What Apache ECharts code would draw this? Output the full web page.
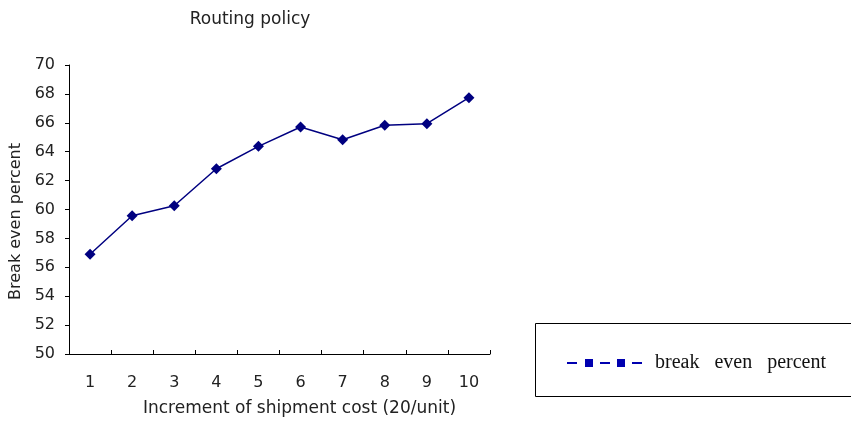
<!DOCTYPE html>
<html>
<head>
<meta charset="utf-8">
<script src="https://cdn.jsdelivr.net/npm/echarts@6/dist/echarts.min.js"></script>
<style>html,body{margin:0;padding:0;background:#fff;}#c{width:851px;height:424px;}</style>
</head>
<body>
<div id="c"></div>
<script>
const categories = ['1','2','3','4','5','6','7','8','9','10'];
const breakEven = [56.9, 59.57, 60.26, 62.82, 64.37, 65.71, 64.83, 65.83, 65.94, 67.74];
const yTicks = { min: 50, max: 70, interval: 2 };

const chart = echarts.init(document.getElementById('c'));
const sans = 'DejaVu Sans';
chart.setOption({
  animation: false,
  backgroundColor: '#fff',
  title: {
    text: 'Routing policy',
    left: 245, top: 6, textAlign: 'center',
    textStyle: { fontFamily: sans, fontSize: 17, fontWeight: 'normal', color: '#222' }
  },
  grid: { left: 69, right: 361, top: 65, bottom: 70, containLabel: false },
  graphic: [{
    type: 'rect',
    shape: { x: 535.5, y: 323.5, width: 340, height: 73 },
    style: { fill: 'none', stroke: '#000', lineWidth: 1 },
    z: 0
  }],
  legend: {
    left: 562, top: 348,
    itemWidth: 75, itemHeight: 8, itemGap: 10,
    icon: 'path://M0 3H10V5H0Z M18 0H26V8H18Z M33 3H43V5H33Z M50 0H58V8H50Z M65 3H75V5H65Z',
    itemStyle: { color: '#0000b0', borderWidth: 0, opacity: 1 },
    formatter: function (n) { return n.split(' ').join('   '); },
    textStyle: { fontFamily: 'Liberation Serif', fontSize: 20, color: '#111', padding: [0, 0, 0, 8] },
    data: [{ name: 'break even percent', itemStyle: { color: '#0000b0', borderWidth: 0, opacity: 1 } }]
  },
  xAxis: {
    type: 'category',
    data: categories,
    boundaryGap: true,
    name: 'Increment of shipment cost (20/unit)',
    nameLocation: 'middle',
    nameGap: 46,
    nameTextStyle: { fontFamily: sans, fontSize: 17, color: '#222', padding: [0, 0, 0, 40] },
    axisLine: { lineStyle: { color: '#000', width: 1 } },
    axisTick: { show: true, inside: true, length: 4, alignWithLabel: false, lineStyle: { color: '#000' } },
    axisLabel: { fontFamily: sans, fontSize: 16, color: '#222', margin: 21 },
    splitLine: { show: false }
  },
  yAxis: {
    type: 'value',
    min: yTicks.min, max: yTicks.max, interval: yTicks.interval,
    name: 'Break even percent',
    nameLocation: 'middle',
    nameGap: 45,
    nameTextStyle: { fontFamily: sans, fontSize: 16, color: '#222', padding: [0, 24, 0, 0] },
    axisLine: { show: true, lineStyle: { color: '#000', width: 1 } },
    axisTick: { show: true, inside: false, length: 4, lineStyle: { color: '#000' } },
    axisLabel: { fontFamily: sans, fontSize: 16, color: '#222', margin: 14, padding: [4, 0, 0, 0] },
    splitLine: { show: false }
  },
  series: [{
    name: 'break even percent',
    type: 'line',
    data: breakEven,
    symbol: 'diamond',
    symbolSize: 11,
    lineStyle: { color: '#000080', width: 1.5 },
    itemStyle: { color: '#000080' }
  }]
});
</script>
</body>
</html>
